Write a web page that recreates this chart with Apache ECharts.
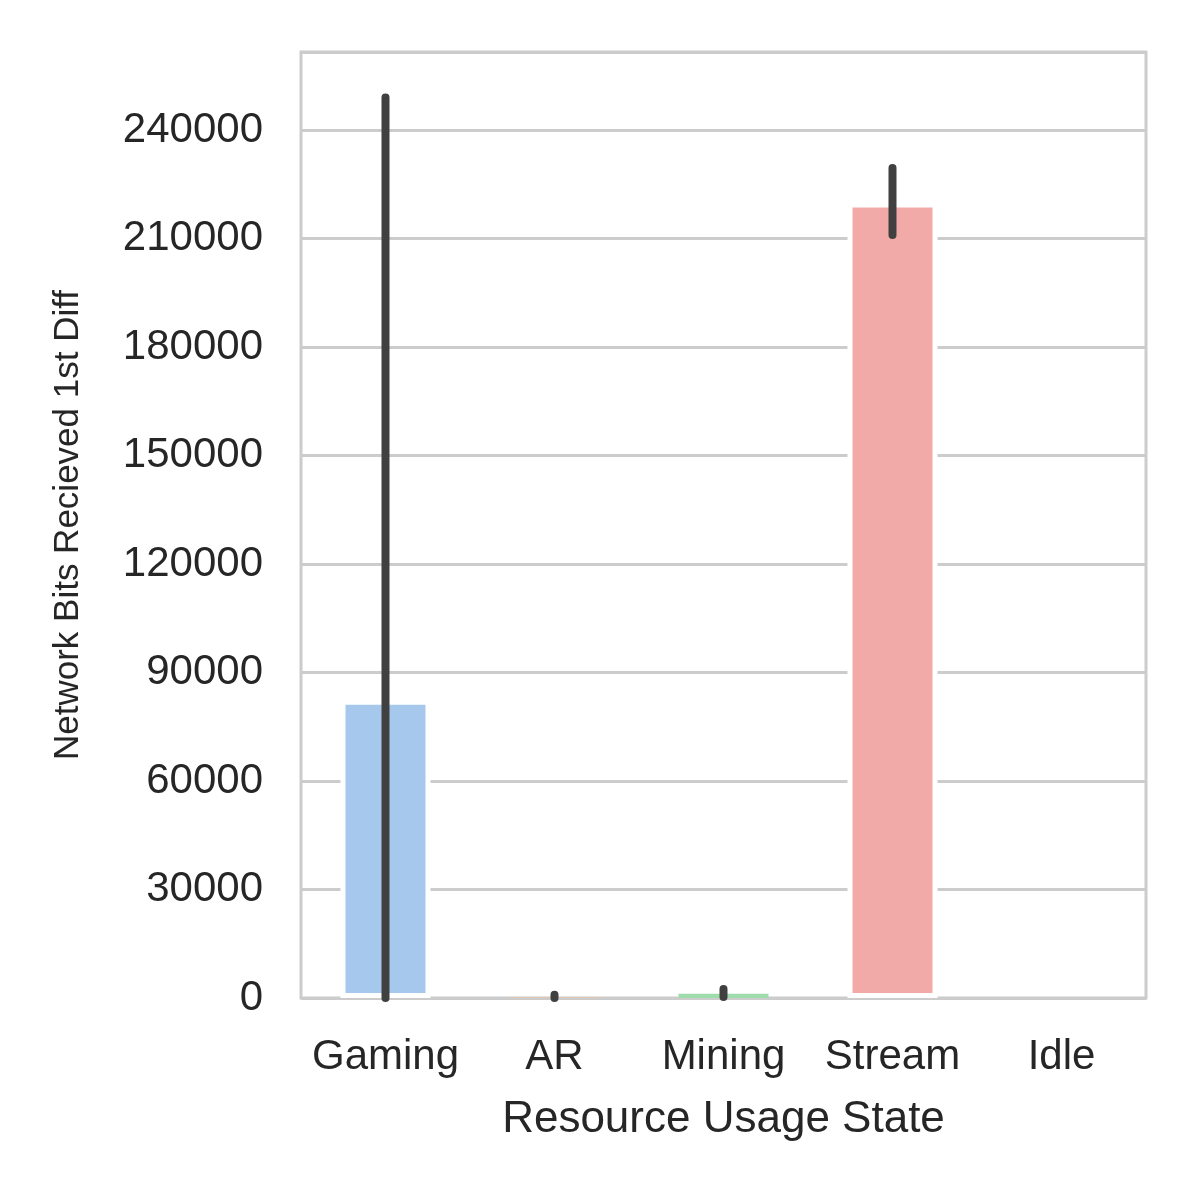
<!DOCTYPE html>
<html>
<head>
<meta charset="utf-8">
<script src="https://cdn.jsdelivr.net/npm/echarts@6/dist/echarts.min.js"></script>
<style>html,body{margin:0;padding:0;background:#fff}#chart{width:1200px;height:1200px}</style>
</head>
<body>
<div id="chart"></div>
<script>
var categories = ['Gaming', 'AR', 'Mining', 'Stream', 'Idle'];
var means = [82500, 150, 1200, 220000, 0];
var errLow = [0, 0, 300, 211000, 0];
var errHigh = [249000, 900, 2500, 229500, 0];
var colors = ['#a7c8ed', '#f9bd94', '#9edcab', '#f2aaa8', '#cfc0f5'];
var yTicks = [0, 30000, 60000, 90000, 120000, 150000, 180000, 210000, 240000];

var chart = echarts.init(document.getElementById('chart'));

var errData = categories.map(function (c, i) { return [i, errLow[i], errHigh[i]]; });

var option = {
  backgroundColor: '#fff',
  animation: false,
  grid: { left: 301, right: 54, top: 52, bottom: 202, show: true, borderColor: '#cccccc', borderWidth: 3 },
  xAxis: {
    type: 'category',
    data: categories,
    name: 'Resource Usage State',
    nameLocation: 'middle',
    nameGap: 100,
    nameTextStyle: { fontFamily: 'Arial, Liberation Sans', fontSize: 44, color: '#262626' },
    axisLine: { show: false },
    axisTick: { show: false },
    axisLabel: { interval: 0, fontFamily: 'Arial, Liberation Sans', fontSize: 42, color: '#262626', margin: 38 }
  },
  yAxis: {
    type: 'value',
    min: 0,
    max: 261600,
    interval: 30000,
    name: 'Network Bits Recieved 1st Diff',
    nameLocation: 'middle',
    nameGap: 215,
    nameTextStyle: { fontFamily: 'Arial, Liberation Sans', fontSize: 35, color: '#262626' },
    axisLine: { show: false },
    axisTick: { show: false },
    splitLine: { lineStyle: { color: '#cccccc', width: 3 } },
    axisLabel: {
      fontFamily: 'Arial, Liberation Sans', fontSize: 42, color: '#262626', margin: 38,
      formatter: function (v) { return yTicks.indexOf(v) >= 0 ? String(v) : ''; }
    }
  },
  series: [
    {
      type: 'bar',
      barWidth: 90,
      data: means.map(function (v, i) {
        return { value: v, itemStyle: { color: colors[i], borderColor: '#fff', borderWidth: v > 5000 ? 5 : 0 } };
      })
    },
    {
      type: 'custom',
      data: errData,
      z: 10,
      renderItem: function (params, api) {
        var lo = api.coord([api.value(0), api.value(1)]);
        var hi = api.coord([api.value(0), api.value(2)]);
        if (api.value(2) === api.value(1)) return null;
        return {
          type: 'line',
          shape: { x1: lo[0], y1: lo[1], x2: hi[0], y2: hi[1] },
          style: { stroke: '#404040', lineWidth: 8, lineCap: 'round' }
        };
      }
    }
  ]
};

chart.setOption(option);
</script>
</body>
</html>
